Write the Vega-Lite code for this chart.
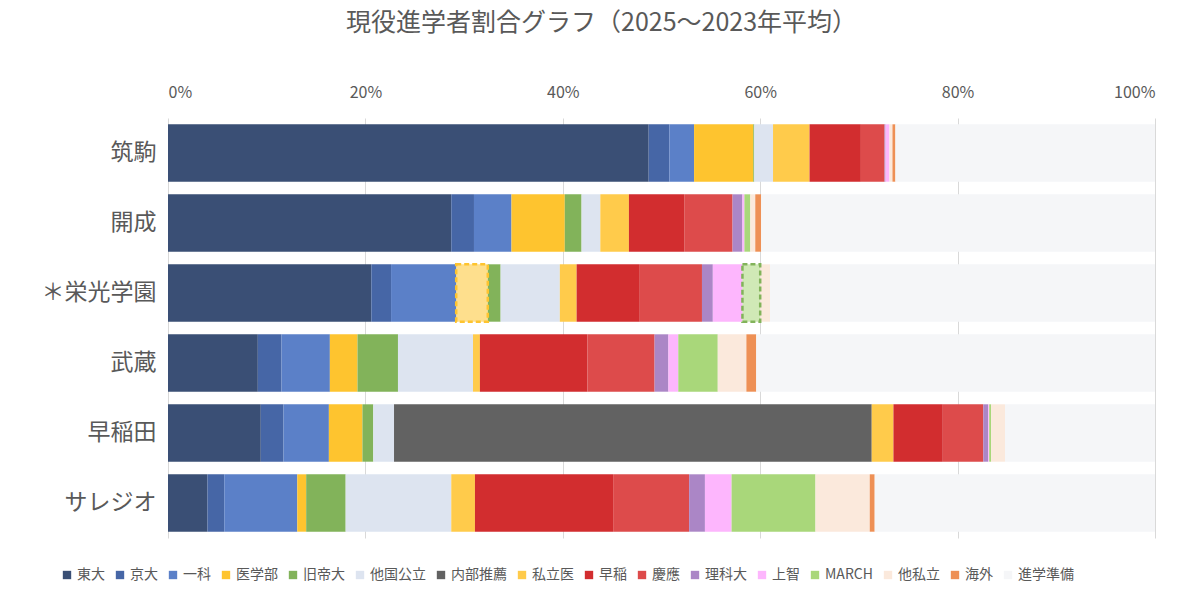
{
  "$schema": "https://vega.github.io/schema/vega-lite/v6.json",
  "width": 987,
  "height": 420,
  "autosize": "none",
  "padding": {"left": 168, "top": 118, "right": 45, "bottom": 64},
  "background": "white",
  "title": {"text": "現役進学者割合グラフ（2025〜2023年平均）", "fontSize": 25, "color": "#595959", "font": "Noto Sans CJK JP", "fontWeight": "normal", "anchor": "middle", "dx": -60, "offset": 48},
  "config": {"view": {"stroke": null}, "font": "Noto Sans CJK JP"},
  "data": {"values": [
    {"school":"筑駒","cat":"東大","v":48.7},{"school":"筑駒","cat":"京大","v":2.1},{"school":"筑駒","cat":"一科","v":2.5},{"school":"筑駒","cat":"医学部","v":6.0},{"school":"筑駒","cat":"旧帝大","v":0.1},{"school":"筑駒","cat":"他国公立","v":1.9},{"school":"筑駒","cat":"内部推薦","v":0},{"school":"筑駒","cat":"私立医","v":3.7},{"school":"筑駒","cat":"早稲","v":5.2},{"school":"筑駒","cat":"慶應","v":2.4},{"school":"筑駒","cat":"理科大","v":0.1},{"school":"筑駒","cat":"上智","v":0.4},{"school":"筑駒","cat":"MARCH","v":0},{"school":"筑駒","cat":"他私立","v":0.3},{"school":"筑駒","cat":"海外","v":0.3},{"school":"筑駒","cat":"進学準備","v":26.3},
    {"school":"開成","cat":"東大","v":28.7},{"school":"開成","cat":"京大","v":2.3},{"school":"開成","cat":"一科","v":3.8},{"school":"開成","cat":"医学部","v":5.4},{"school":"開成","cat":"旧帝大","v":1.7},{"school":"開成","cat":"他国公立","v":1.9},{"school":"開成","cat":"内部推薦","v":0},{"school":"開成","cat":"私立医","v":2.9},{"school":"開成","cat":"早稲","v":5.6},{"school":"開成","cat":"慶應","v":4.9},{"school":"開成","cat":"理科大","v":1.0},{"school":"開成","cat":"上智","v":0.2},{"school":"開成","cat":"MARCH","v":0.6},{"school":"開成","cat":"他私立","v":0.5},{"school":"開成","cat":"海外","v":0.6},{"school":"開成","cat":"進学準備","v":39.9},
    {"school":"＊栄光学園","cat":"東大","v":20.6},{"school":"＊栄光学園","cat":"京大","v":2.0},{"school":"＊栄光学園","cat":"一科","v":6.6},{"school":"＊栄光学園","cat":"医学部","v":3.2,"hl":true},{"school":"＊栄光学園","cat":"旧帝大","v":1.3},{"school":"＊栄光学園","cat":"他国公立","v":6.0},{"school":"＊栄光学園","cat":"内部推薦","v":0},{"school":"＊栄光学園","cat":"私立医","v":1.7},{"school":"＊栄光学園","cat":"早稲","v":6.4},{"school":"＊栄光学園","cat":"慶應","v":6.3},{"school":"＊栄光学園","cat":"理科大","v":1.1},{"school":"＊栄光学園","cat":"上智","v":3.0},{"school":"＊栄光学園","cat":"MARCH","v":1.8,"hl":true},{"school":"＊栄光学園","cat":"他私立","v":1.0},{"school":"＊栄光学園","cat":"海外","v":0},{"school":"＊栄光学園","cat":"進学準備","v":39.0},
    {"school":"武蔵","cat":"東大","v":9.1},{"school":"武蔵","cat":"京大","v":2.4},{"school":"武蔵","cat":"一科","v":4.9},{"school":"武蔵","cat":"医学部","v":2.8},{"school":"武蔵","cat":"旧帝大","v":4.1},{"school":"武蔵","cat":"他国公立","v":7.6},{"school":"武蔵","cat":"内部推薦","v":0},{"school":"武蔵","cat":"私立医","v":0.7},{"school":"武蔵","cat":"早稲","v":10.9},{"school":"武蔵","cat":"慶應","v":6.8},{"school":"武蔵","cat":"理科大","v":1.4},{"school":"武蔵","cat":"上智","v":1.0},{"school":"武蔵","cat":"MARCH","v":4.0},{"school":"武蔵","cat":"他私立","v":2.9},{"school":"武蔵","cat":"海外","v":1.0},{"school":"武蔵","cat":"進学準備","v":40.4},
    {"school":"早稲田","cat":"東大","v":9.4},{"school":"早稲田","cat":"京大","v":2.3},{"school":"早稲田","cat":"一科","v":4.6},{"school":"早稲田","cat":"医学部","v":3.4},{"school":"早稲田","cat":"旧帝大","v":1.1},{"school":"早稲田","cat":"他国公立","v":2.1},{"school":"早稲田","cat":"内部推薦","v":48.4},{"school":"早稲田","cat":"私立医","v":2.2},{"school":"早稲田","cat":"早稲","v":5.0},{"school":"早稲田","cat":"慶應","v":4.1},{"school":"早稲田","cat":"理科大","v":0.5},{"school":"早稲田","cat":"上智","v":0.1},{"school":"早稲田","cat":"MARCH","v":0.2},{"school":"早稲田","cat":"他私立","v":1.4},{"school":"早稲田","cat":"海外","v":0},{"school":"早稲田","cat":"進学準備","v":15.2},
    {"school":"サレジオ","cat":"東大","v":4.0},{"school":"サレジオ","cat":"京大","v":1.7},{"school":"サレジオ","cat":"一科","v":7.4},{"school":"サレジオ","cat":"医学部","v":0.9},{"school":"サレジオ","cat":"旧帝大","v":4.0},{"school":"サレジオ","cat":"他国公立","v":10.7},{"school":"サレジオ","cat":"内部推薦","v":0},{"school":"サレジオ","cat":"私立医","v":2.4},{"school":"サレジオ","cat":"早稲","v":14.0},{"school":"サレジオ","cat":"慶應","v":7.7},{"school":"サレジオ","cat":"理科大","v":1.6},{"school":"サレジオ","cat":"上智","v":2.7},{"school":"サレジオ","cat":"MARCH","v":8.5},{"school":"サレジオ","cat":"他私立","v":5.5},{"school":"サレジオ","cat":"海外","v":0.5},{"school":"サレジオ","cat":"進学準備","v":28.4}
  ]},
  "transform": [
    {"calculate": "indexof(['東大','京大','一科','医学部','旧帝大','他国公立','内部推薦','私立医','早稲','慶應','理科大','上智','MARCH','他私立','海外','進学準備'], datum.cat)", "as": "ord"},
    {"calculate": "datum.v / 100", "as": "p"},
    {"stack": "p", "groupby": ["school"], "sort": [{"field": "ord", "order": "ascending"}], "as": ["p0", "p1"]}
  ],
  "encoding": {
    "y": {"field": "school", "type": "nominal", "sort": ["筑駒","開成","＊栄光学園","武蔵","早稲田","サレジオ"], "title": null,
      "scale": {"paddingInner": 0.18, "paddingOuter": 0.09},
      "axis": {"labelFontSize": 23, "labelColor": "#595959", "ticks": false, "domain": false, "labelPadding": 12}},
    "x": {"field": "p0", "type": "quantitative", "scale": {"domain": [0, 1]}, "title": null,
      "axis": {"orient": "top", "format": "%", "tickCount": 10, "values": [0,0.1,0.2,0.3,0.4,0.5,0.6,0.7,0.8,0.9,1], "labelFontSize": 16, "labelColor": "#595959", "ticks": false, "domain": false, "gridColor": "#d9d9d9", "labelPadding": 18}},
    "x2": {"field": "p1"}
  },
  "layer": [
    {
      "mark": {"type": "bar"},
      "encoding": {
        "color": {"field": "cat", "type": "nominal", "title": null,
          "scale": {
            "domain": ["東大","京大","一科","医学部","旧帝大","他国公立","内部推薦","私立医","早稲","慶應","理科大","上智","MARCH","他私立","海外","進学準備"],
            "range": ["#3a4f75","#4666a6","#5b80c8","#fec42f","#82b35a","#dde4f0","#626262","#ffcb4b","#d22d2f","#dd4b4b","#ab86c6","#fdb6fd","#a9d77a","#fbe9dc","#ee9055","#f5f6f8"]},
          "legend": {"orient": "none", "legendX": -108, "legendY": 450, "direction": "horizontal", "columns": 16, "symbolType": "square", "symbolSize": 70, "labelFontSize": 14, "labelColor": "#595959", "columnPadding": 8, "labelOffset": 3}},
        "opacity": {"condition": {"test": "datum.hl", "value": 0.55}, "value": 1}
      }
    },
    {
      "transform": [{"filter": "datum.hl"}],
      "mark": {"type": "bar", "fillOpacity": 0, "strokeWidth": 2.5, "strokeDash": [5, 3]},
      "encoding": {
        "stroke": {"field": "cat", "type": "nominal", "scale": {"domain": ["医学部","MARCH"], "range": ["#fec42f","#82b35a"]}, "legend": null}
      }
    }
  ],
  "resolve": {"scale": {"color": "independent"}}
}
